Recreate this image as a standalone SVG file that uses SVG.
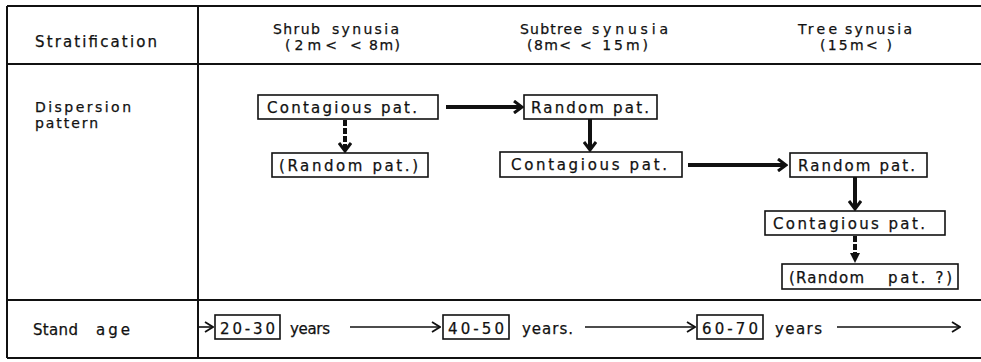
<svg xmlns="http://www.w3.org/2000/svg" width="981" height="362" viewBox="0 0 981 362">
<style>
  text { font-family: "DejaVu Sans", "Liberation Sans", sans-serif; font-size: 15px; fill: #111; stroke: #111; stroke-width: 0.25; }
  .two { font-size: 14px; }
  .grid { stroke: #111; stroke-width: 2; fill: none; }
  .box { fill: #fff; stroke: #111; stroke-width: 1.6; }
  .thick { stroke: #111; stroke-width: 4; fill: none; }
  .dash { stroke: #111; stroke-width: 4; fill: none; stroke-dasharray: 6 2; }
  .thin { stroke: #111; stroke-width: 1.6; fill: none; }
</style>
<defs>
  <marker id="chev" viewBox="0 0 12 14" markerWidth="12" markerHeight="14" refX="8" refY="7" orient="auto" markerUnits="userSpaceOnUse">
    <path d="M2,1 L10,7 L2,13" fill="none" stroke="#111" stroke-width="3"/>
  </marker>
  <marker id="tri" viewBox="0 0 12 12" markerWidth="12" markerHeight="12" refX="6" refY="6" orient="auto" markerUnits="userSpaceOnUse">
    <path d="M1,1 L11,6 L1,11 Z" fill="#111"/>
  </marker>
  <marker id="open" viewBox="0 0 10 12" markerWidth="10" markerHeight="12" refX="8" refY="6" orient="auto" markerUnits="userSpaceOnUse">
    <path d="M1,1 L9,6 L1,11" fill="none" stroke="#111" stroke-width="1.8"/>
  </marker>
</defs>
<rect width="981" height="362" fill="#fff"/>

<g id="table">
  <path class="grid" d="M7,6 H981 M7,64 H981 M7,300 H981 M7,358 H981 M7,6 V358 M198,6 V358"/>
</g>

<g id="header-stratification">
  <text x="35" y="47" textLength="122" lengthAdjust="spacing">Stratification</text>
</g>
<g id="header-shrub">
  <text class="two" y="34"><tspan x="273" textLength="47" lengthAdjust="spacing">Shrub</tspan><tspan x="332" textLength="67" lengthAdjust="spacing">synusia</tspan></text>
  <text class="two" y="50"><tspan x="285" textLength="52" lengthAdjust="spacing">(2m&lt;</tspan><tspan x="350" textLength="50" lengthAdjust="spacing">&lt; 8m)</tspan></text>
</g>
<g id="header-subtree">
  <text class="two" y="34"><tspan x="520" textLength="62" lengthAdjust="spacing">Subtree</tspan><tspan x="592" textLength="76" lengthAdjust="spacing">synusia</tspan></text>
  <text class="two" y="50"><tspan x="527" textLength="44" lengthAdjust="spacing">(8m&lt;</tspan><tspan x="580" textLength="68" lengthAdjust="spacing">&lt; 15m)</tspan></text>
</g>
<g id="header-tree">
  <text class="two" y="34"><tspan x="798" textLength="39" lengthAdjust="spacing">Tree</tspan><tspan x="845" textLength="67" lengthAdjust="spacing">synusia</tspan></text>
  <text class="two" x="820" y="50" textLength="72" lengthAdjust="spacing">(15m&lt; )</text>
</g>

<g id="label-dispersion">
  <text class="two" x="35" y="112" textLength="96" lengthAdjust="spacing">Dispersion</text>
  <text class="two" x="35" y="128" textLength="63" lengthAdjust="spacing">pattern</text>
</g>
<g id="label-stand-age">
  <text y="335"><tspan x="33" textLength="45" lengthAdjust="spacing">Stand</tspan><tspan x="96" textLength="34" lengthAdjust="spacing">age</tspan></text>
</g>

<g id="shrub-contagious">
  <rect class="box" x="258" y="95" width="180" height="24"/>
  <text x="267" y="113" textLength="150" lengthAdjust="spacing">Contagious pat.</text>
</g>
<g id="shrub-random">
  <rect class="box" x="272" y="153" width="156" height="24"/>
  <text x="279" y="171" textLength="139" lengthAdjust="spacing">(Random pat.)</text>
</g>
<g id="subtree-random">
  <rect class="box" x="524" y="95" width="133" height="24"/>
  <text x="531" y="113" textLength="118" lengthAdjust="spacing">Random pat.</text>
</g>
<g id="subtree-contagious">
  <rect class="box" x="500" y="152" width="182" height="25"/>
  <text x="511" y="170" textLength="156" lengthAdjust="spacing">Contagious pat.</text>
</g>
<g id="tree-random">
  <rect class="box" x="790" y="153" width="137" height="24"/>
  <text x="798" y="171" textLength="117" lengthAdjust="spacing">Random pat.</text>
</g>
<g id="tree-contagious">
  <rect class="box" x="765" y="211" width="180" height="24"/>
  <text x="773" y="229" textLength="152" lengthAdjust="spacing">Contagious pat.</text>
</g>
<g id="tree-random-q">
  <rect class="box" x="782" y="264" width="176" height="25"/>
  <text y="283"><tspan x="789" textLength="75" lengthAdjust="spacing">(Random</tspan><tspan x="888" textLength="64" lengthAdjust="spacing">pat. ?)</tspan></text>
</g>

<g id="age-20-30">
  <rect class="box" x="215" y="315" width="65" height="24"/>
  <text x="220" y="334" textLength="55" lengthAdjust="spacing">20-30</text>
  <text x="290" y="334" textLength="40" lengthAdjust="spacing">years</text>
</g>
<g id="age-40-50">
  <rect class="box" x="443" y="315" width="66" height="24"/>
  <text x="448" y="334" textLength="56" lengthAdjust="spacing">40-50</text>
  <text x="522" y="334" textLength="51" lengthAdjust="spacing">years.</text>
</g>
<g id="age-60-70">
  <rect class="box" x="697" y="315" width="66" height="24"/>
  <text x="702" y="334" textLength="56" lengthAdjust="spacing">60-70</text>
  <text x="775" y="334" textLength="47" lengthAdjust="spacing">years</text>
</g>

<g id="connectors">
  <line class="thick" x1="446" y1="107" x2="520" y2="107" marker-end="url(#chev)"/>
  <line class="thick" x1="688" y1="165" x2="784" y2="165" marker-end="url(#chev)"/>
  <line class="thick" x1="590" y1="119" x2="590" y2="148" marker-end="url(#chev)"/>
  <line class="thick" x1="855" y1="177" x2="855" y2="207" marker-end="url(#chev)"/>
  <line class="dash" x1="345" y1="120" x2="345" y2="149" marker-end="url(#chev)"/>
  <line class="dash" x1="855" y1="236" x2="855" y2="258" marker-end="url(#tri)"/>
  <line class="thin" x1="199" y1="327" x2="212" y2="327" marker-end="url(#open)"/>
  <line class="thin" x1="350" y1="327" x2="439" y2="327" marker-end="url(#open)"/>
  <line class="thin" x1="585" y1="327" x2="694" y2="327" marker-end="url(#open)"/>
  <line class="thin" x1="837" y1="327" x2="959" y2="327" marker-end="url(#open)"/>
</g>
</svg>
